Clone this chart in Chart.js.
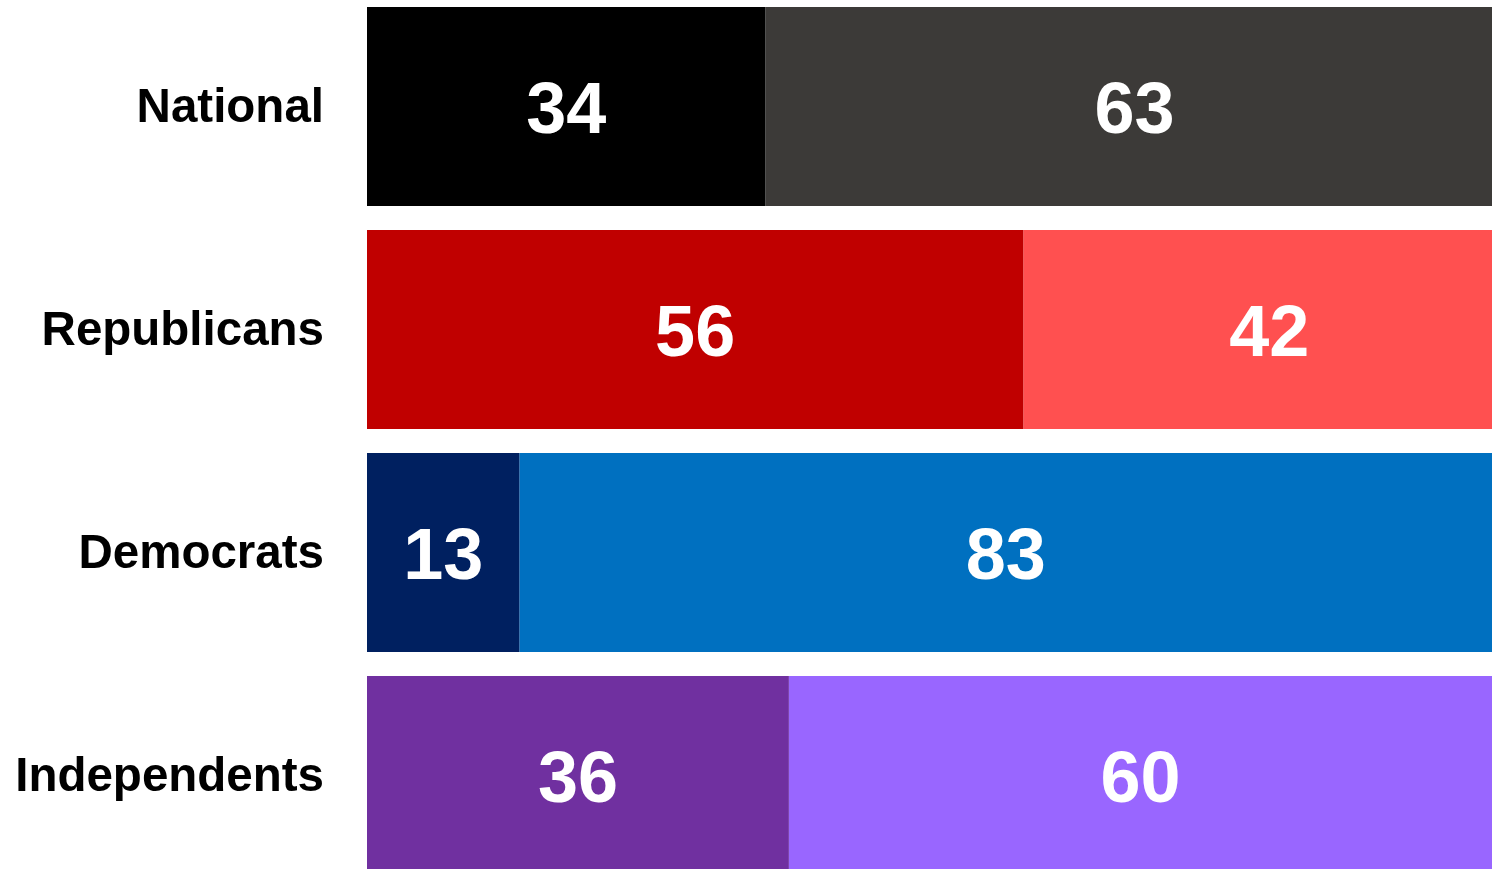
<!DOCTYPE html>
<html>
<head>
<meta charset="utf-8">
<title>Approval by party</title>
<script src="https://cdn.jsdelivr.net/npm/chart.js@4"></script>
<style>
  html, body { margin: 0; padding: 0; background: #ffffff; overflow: hidden; }
  #wrap { position: absolute; left: 0; top: -5px; width: 1492px; height: 892px; }
</style>
</head>
<body>
<div id="wrap"><canvas id="chart"></canvas></div>
<script>
// Groups shown as rows
const groups = ['National', 'Republicans', 'Democrats', 'Independents'];

// Left segment (first response) and right segment (second response), in percent
const firstShare = [34, 56, 13, 36];
const secondShare = [63, 42, 83, 60];

// Segment colours per group
const firstColors = ['#000000', '#c00000', '#002060', '#7030a0'];
const secondColors = ['#3c3a38', '#ff5050', '#0070c0', '#9966ff'];

const FONT = '"Liberation Sans", Arial, Helvetica, sans-serif';

// Writes each segment's value in white at the centre of its bar
const barValueLabels = {
  id: 'barValueLabels',
  afterDatasetsDraw(chart) {
    const ctx = chart.ctx;
    ctx.save();
    ctx.fillStyle = '#ffffff';
    ctx.font = 'bold 72px ' + FONT;
    ctx.textAlign = 'center';
    ctx.textBaseline = 'middle';
    chart.data.datasets.forEach((ds, di) => {
      chart.getDatasetMeta(di).data.forEach((bar, i) => {
        const c = bar.getCenterPoint();
        ctx.fillText(String(ds.data[i]), c.x, c.y + 7);
      });
    });
    ctx.restore();
  }
};

new Chart(document.getElementById('chart'), {
  type: 'bar',
  data: {
    labels: groups,
    datasets: [
      { data: firstShare, backgroundColor: firstColors, borderWidth: 0 },
      { data: secondShare, backgroundColor: secondColors, borderWidth: 0 }
    ]
  },
  options: {
    indexAxis: 'y',
    responsive: true,
    maintainAspectRatio: false,
    animation: false,
    layout: { padding: 0 },
    datasets: { bar: { categoryPercentage: 1, barPercentage: 0.892 } },
    plugins: { legend: { display: false }, tooltip: { enabled: false } },
    scales: {
      x: {
        stacked: true,
        min: 0,
        max: 96,
        display: false
      },
      y: {
        stacked: true,
        grid: { display: false, drawTicks: false },
        border: { display: false },
        ticks: {
          color: '#000000',
          padding: 43,
          labelOffset: 2,
          font: { family: FONT, size: 47.5, weight: 'bold' }
        },
        afterFit(scale) {
          scale.width = 367;
          scale.paddingTop = 0;
          scale.paddingBottom = 0;
        }
      }
    }
  },
  plugins: [barValueLabels]
});
</script>
</body>
</html>
